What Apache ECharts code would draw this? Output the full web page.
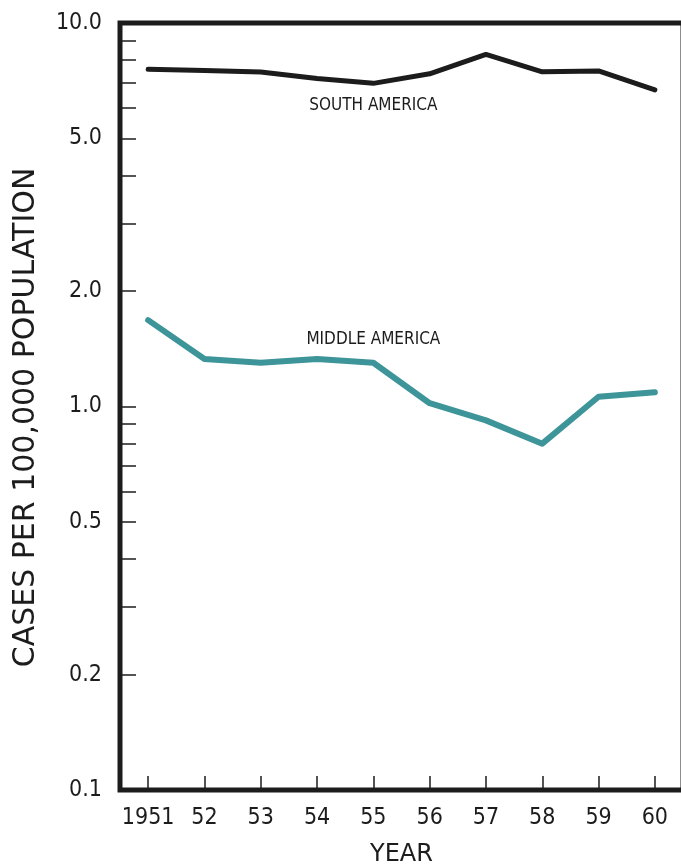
<!DOCTYPE html>
<html>
<head>
<meta charset="utf-8">
<title>Cases per 100,000 population, 1951–60</title>
<script src="https://cdn.jsdelivr.net/npm/echarts@6/dist/echarts.min.js"></script>
<style>
  html, body { margin: 0; padding: 0; background: #ffffff; }
  #chart { width: 681px; height: 867px; }
</style>
</head>
<body>
<div id="chart"></div>
<script>
// Years along the bottom axis
const years = ['1951', '52', '53', '54', '55', '56', '57', '58', '59', '60'];

// Cases per 100,000 population
const southAmerica = [7.57, 7.52, 7.45, 7.17, 6.96, 7.37, 8.28, 7.46, 7.50, 6.69];
const middleAmerica = [1.68, 1.33, 1.30, 1.33, 1.30, 1.02, 0.92, 0.80, 1.06, 1.09];

// Logarithmic scale: every tick mark, and the ones that carry a label
const yTickValues = [0.1, 0.2, 0.3, 0.4, 0.5, 0.6, 0.7, 0.8, 0.9, 1, 2, 3, 4, 5, 6, 7, 8, 9, 10];
const yLabelValues = [0.1, 0.2, 0.5, 1, 2, 5, 10];

const ink = '#1c1c1c';
const teal = '#3d9499';
const narrow = "'Liberation Sans Narrow', 'DejaVu Sans Condensed', 'Roboto Condensed', 'Noto Sans', sans-serif";
const wide = "'DejaVu Sans', 'Noto Sans', sans-serif";

// Region name written beside the 1955 point of its line
function nameAt(values, name, position, distance) {
  return values.map((v, i) => i === 4
    ? {
        value: v,
        label: {
          show: true, position: position, distance: distance,
          formatter: name, color: ink, fontFamily: narrow, fontSize: 17
        }
      }
    : v);
}

const chart = echarts.init(document.getElementById('chart'), null, { renderer: 'canvas' });

chart.setOption({
  animation: false,
  backgroundColor: '#ffffff',
  grid: {
    left: 120, top: 23, width: 563, height: 767,
    containLabel: false,
    outerBoundsMode: 'none',
    show: true, borderColor: ink, borderWidth: 5, backgroundColor: 'transparent'
  },
  xAxis: {
    type: 'category',
    data: years,
    boundaryGap: true,
    name: 'YEAR',
    nameLocation: 'middle',
    nameGap: 53,
    nameTextStyle: { color: ink, fontFamily: wide, fontSize: 24 },
    axisLine: { show: false },
    axisTick: { show: true, inside: true, alignWithLabel: true, interval: 0, length: 14, lineStyle: { color: ink, width: 1.5 } },
    axisLabel: { color: ink, fontFamily: narrow, fontSize: 23, margin: 17, interval: 0, hideOverlap: false },
    splitLine: { show: false }
  },
  yAxis: {
    type: 'log',
    logBase: 10,
    min: 0.1,
    max: 10,
    name: 'CASES PER 100,000 POPULATION',
    nameLocation: 'middle',
    nameGap: 79,
    nameRotate: 90,
    nameTextStyle: { color: ink, fontFamily: wide, fontSize: 30, padding: [0, 22, 0, 0] },
    axisLine: { show: false },
    axisTick: {
      show: true, inside: true, length: 16,
      customValues: yTickValues,
      lineStyle: { color: ink, width: 1.5 }
    },
    axisLabel: {
      color: ink, fontFamily: narrow, fontSize: 23, margin: 18,
      customValues: yLabelValues,
      formatter: v => Number(v).toFixed(1)
    },
    splitLine: { show: false },
    minorTick: { show: false }
  },
  series: [
    {
      name: 'SOUTH AMERICA',
      type: 'line',
      data: nameAt(southAmerica, 'SOUTH AMERICA', 'bottom', 14),
      symbol: 'circle',
      symbolSize: 0,
      showSymbol: true,
      lineStyle: { color: ink, width: 5, join: 'round', cap: 'round' },
      itemStyle: { color: ink },
      z: 3
    },
    {
      name: 'MIDDLE AMERICA',
      type: 'line',
      data: nameAt(middleAmerica, 'MIDDLE AMERICA', 'top', 15),
      symbol: 'circle',
      symbolSize: 0,
      showSymbol: true,
      lineStyle: { color: teal, width: 6, join: 'round', cap: 'round' },
      itemStyle: { color: teal },
      z: 3
    }
  ]
});
</script>
</body>
</html>
